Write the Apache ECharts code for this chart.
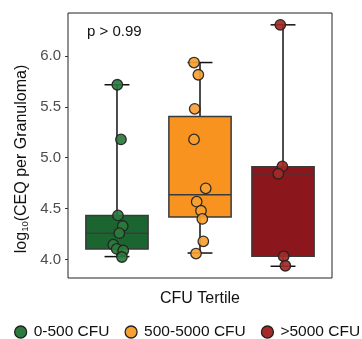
<!DOCTYPE html>
<html>
<head>
<meta charset="utf-8">
<script src="https://cdn.jsdelivr.net/npm/echarts@6/dist/echarts.min.js"></script>
<style>html,body{margin:0;padding:0;background:#fff}#c{width:362px;height:339px}</style>
</head>
<body>
<div id="c"></div>
<script>
var categories = ['0-500 CFU', '500-5000 CFU', '>5000 CFU'];
var yTicks = [4.0, 4.5, 5.0, 5.5, 6.0];
// [min, q1, median, q3, max]
var boxGreen = [4.03, 4.105, 4.258, 4.434, 5.716];
var boxOrange = [4.065, 4.418, 4.637, 5.405, 5.934];
var boxRed = [3.935, 4.033, 4.843, 4.912, 6.304];
// points: [jittered x position, value]
var ptsGreen = [[1.004, 5.716], [1.048, 5.18], [1.012, 4.434], [1.069, 4.33], [1.028, 4.26], [0.955, 4.147], [0.996, 4.105], [1.076, 4.09], [1.06, 4.026]];
var ptsOrange = [[1.928, 5.934], [1.98, 5.814], [1.936, 5.48], [1.928, 5.18], [2.069, 4.70], [1.96, 4.569], [2.012, 4.48], [2.028, 4.40], [2.04, 4.18], [1.952, 4.06]];
var ptsRed = [[2.967, 6.304], [2.992, 4.915], [2.943, 4.843], [3.008, 4.033], [3.028, 3.94]];

var boxColors = ['#1b6630', '#f7931e', '#8b161c'];
var ptColors = ['#2c7a3d', '#f8a032', '#a32a26'];
var boxes = [boxGreen, boxOrange, boxRed];
var pts = [ptsGreen, ptsOrange, ptsRed];
var FONT = '"Liberation Sans", Arial, Helvetica, sans-serif';

var boxData = boxes.map(function (b, i) { return [i + 1].concat(b); });

var series = [{
  type: 'custom',
  name: 'box',
  z: 2,
  data: boxData,
  encode: { x: 0, y: [1, 2, 3, 4, 5] },
  renderItem: function (params, api) {
    var x = api.value(0);
    var idx = params.dataIndex;
    var pMin = api.coord([x, api.value(1)]);
    var pQ1 = api.coord([x, api.value(2)]);
    var pMed = api.coord([x, api.value(3)]);
    var pQ3 = api.coord([x, api.value(4)]);
    var pMax = api.coord([x, api.value(5)]);
    var w = api.size([0.75, 0])[0];
    var cw = api.size([0.3, 0])[0];
    var cx = pMin[0];
    return {
      type: 'group',
      children: [
        { type: 'line', shape: { x1: cx, y1: pMax[1], x2: cx, y2: pMin[1] }, style: { stroke: '#111', lineWidth: 1.5 } },
        { type: 'line', shape: { x1: cx - cw / 2, y1: pMax[1], x2: cx + cw / 2, y2: pMax[1] }, style: { stroke: '#111', lineWidth: 1.5 } },
        { type: 'line', shape: { x1: cx - cw / 2, y1: pMin[1], x2: cx + cw / 2, y2: pMin[1] }, style: { stroke: '#111', lineWidth: 1.5 } },
        { type: 'rect', shape: { x: cx - w / 2, y: pQ3[1], width: w, height: pQ1[1] - pQ3[1] }, style: { fill: boxColors[idx], stroke: '#3a3a3a', lineWidth: 1.5 } },
        { type: 'line', shape: { x1: cx - w / 2, y1: pMed[1], x2: cx + w / 2, y2: pMed[1] }, style: { stroke: '#3a3a3a', lineWidth: 1.5 } }
      ]
    };
  }
}];

categories.forEach(function (c, i) {
  series.push({
    type: 'scatter',
    name: c,
    z: 5,
    symbol: 'circle',
    symbolSize: 10.5,
    data: pts[i],
    itemStyle: { color: ptColors[i], opacity: 0.92, borderColor: '#222', borderWidth: 1.3 },
    emphasis: { disabled: true }
  });
});

var chart = echarts.init(document.getElementById('c'), null, { renderer: 'canvas' });
chart.setOption({
  animation: false,
  grid: { left: 68, right: 30, top: 13, bottom: 61, show: true, borderColor: '#222', borderWidth: 1, backgroundColor: 'transparent' },
  xAxis: {
    type: 'value', min: 0.41, max: 3.59,
    axisLine: { show: false }, axisTick: { show: false }, axisLabel: { show: false }, splitLine: { show: false },
    name: 'CFU Tertile', nameLocation: 'middle', nameGap: 13,
    nameTextStyle: { fontSize: 16, color: '#111', fontFamily: FONT }
  },
  yAxis: {
    type: 'value', min: 3.82, max: 6.42,
    axisLine: { show: false },
    splitLine: { show: false },
    axisTick: { show: true, length: 3, lineStyle: { color: '#333', width: 1 }, customValues: yTicks },
    axisLabel: { color: '#4d4d4d', fontSize: 15, fontFamily: FONT, margin: 7, customValues: yTicks,
      formatter: function (v) { return v.toFixed(1); } }
  },
  legend: {
    left: 14, top: 324, itemGap: 15, itemWidth: 16, itemHeight: 12, padding: 0,
    icon: 'circle',
    textStyle: { fontSize: 15.5, color: '#111', fontFamily: FONT },
    data: categories.map(function (c, i) {
      return { name: c, itemStyle: { color: ptColors[i], opacity: 1, borderColor: '#222', borderWidth: 1.3 } };
    })
  },
  graphic: [
    { type: 'text', x: 87, y: 32, style: { text: 'p > 0.99', fontSize: 15, fill: '#111', fontFamily: FONT, verticalAlign: 'middle', align: 'left' } },
    { type: 'text', x: 22, y: 159, rotation: Math.PI / 2,
      style: { text: 'log{s|10}(CEQ per Granuloma)', fontSize: 16, fill: '#111', fontFamily: FONT, align: 'center', verticalAlign: 'middle',
        rich: { s: { fontSize: 9.5, fill: '#111', fontFamily: FONT, verticalAlign: 'bottom', lineHeight: 9 } } } }
  ],
  series: series
});
</script>
</body>
</html>
